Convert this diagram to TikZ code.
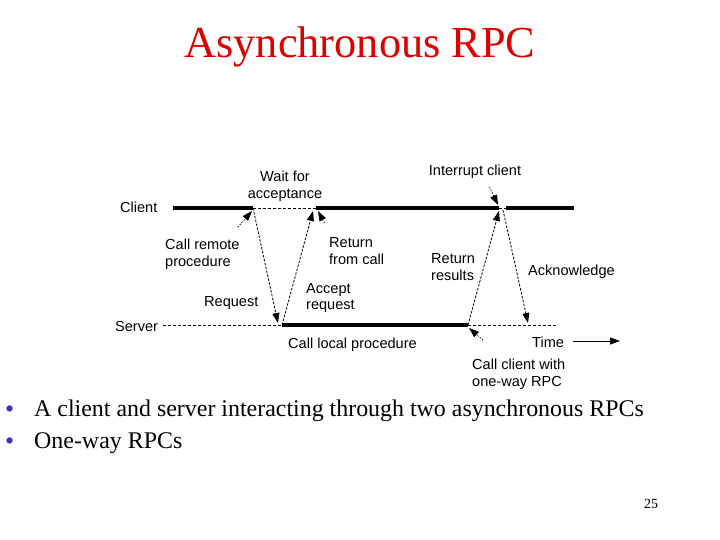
\documentclass[tikz,border=0pt]{standalone}
\usepackage{fontspec}
\setmainfont{Liberation Serif}
\newfontfamily\arial{Liberation Sans}
\usetikzlibrary{arrows.meta}
\definecolor{ttl}{HTML}{DD0000}
\definecolor{bul}{HTML}{3333AA}
\begin{document}
\begin{tikzpicture}[x=1bp, y=-1bp,
  busy/.style={line width=3.5bp},
  idle/.style={line width=0.8bp, dash pattern=on 3bp off 2bp},
  msg/.style={-{Triangle[length=10bp,width=7bp]}, line width=0.8bp, dash pattern=on 2.5bp off 1.5bp},
  note/.style={-{Triangle[length=10bp,width=7bp]}, line width=0.7bp, dash pattern=on 1.5bp off 1.5bp, shorten <=1bp},
  lab/.style={font=\arial\fontsize{14.6}{17}\selectfont, align=left, inner sep=0pt},
  txt/.style={font=\fontsize{24}{28}\selectfont, anchor=base west, inner sep=0pt},
  bullet/.style={txt, text=bul, font=\fontsize{26}{28}\selectfont}
]
\useasboundingbox (0,0) rectangle (720,540);
% title and bullets
\node[text=ttl, font=\fontsize{44.5}{48}\selectfont, inner sep=0pt] (title) at (360,47) {Asynchronous RPC};
\node[bullet] (b1) at (5,417) {\textbullet};
\node[txt] (t1) at (34,416) {A client and server interacting through two asynchronous RPCs};
\node[bullet] (b2) at (5,449) {\textbullet};
\node[txt] (t2) at (34,448) {One-way RPCs};
\node[font=\fontsize{14}{16}\selectfont, inner sep=0pt] (page) at (651,504) {25};
% time lines
\coordinate (c0) at (173,208);
\coordinate (c1) at (253,208);
\coordinate (c2) at (316,208);
\coordinate (c3) at (499,208);
\coordinate (c4) at (506,208);
\coordinate (c5) at (574,208);
\coordinate (s0) at (163,325);
\coordinate (s1) at (282,325);
\coordinate (s2) at (468,325);
\coordinate (s3) at (558,325);
\draw[busy] (c0) -- (c1);
\draw[idle] (c1) -- (c2);
\draw[busy] (c2) -- (c3);
\draw[idle] (c3) -- (c4);
\draw[busy] (c4) -- (c5);
\draw[idle] (s0) -- (s1);
\draw[busy] (s1) -- (s2);
\draw[idle] (s2) -- (s3);
% messages
\coordinate (rq) at (278,323);
\coordinate (ac) at (313,211);
\coordinate (rr) at (499,211);
\coordinate (ak) at (528,323);
\draw[msg] (c1) -- (rq);
\draw[msg] (s1) -- (ac);
\draw[msg] (s2) -- (rr);
\draw[msg] (503,210) -- (ak);
% labels
\node[lab, anchor=west] (client) at (120,207) {Client};
\node[lab, anchor=west] (server) at (115,326) {Server};
\node[lab, align=center] (wait) at (285,186) {Wait for\\acceptance};
\node[lab] (intr) at (475,172) {Interrupt client};
\node[lab, anchor=west] (crp) at (165,254) {Call remote\\procedure};
\node[lab, anchor=west] (rfc) at (329,251) {Return\\from call};
\node[lab, anchor=west] (rres) at (431,267) {Return\\results};
\node[lab, anchor=west] (ack) at (528,272) {Acknowledge};
\node[lab, anchor=west] (req) at (204,303) {Request};
\node[lab, anchor=west] (acr) at (306,298) {Accept\\request};
\node[lab, anchor=west] (clp) at (288,345) {Call local procedure};
\node[lab, anchor=west] (time) at (532,342) {Time};
\node[lab, anchor=west] (ccw) at (472,374) {Call client with\\one-way RPC};
% pointers
\coordinate (tend) at (620,341);
\draw[-{Triangle[length=10bp,width=7bp]}, line width=0.8bp] (573,341) -- (tend);
\draw[note] (237,228) -- (252,211);
\draw[note] (325,224) -- (318,211);
\draw[note] (489,186) -- (498,205);
\draw[note] (484,341) -- (469,328);
\end{tikzpicture}
\end{document}
